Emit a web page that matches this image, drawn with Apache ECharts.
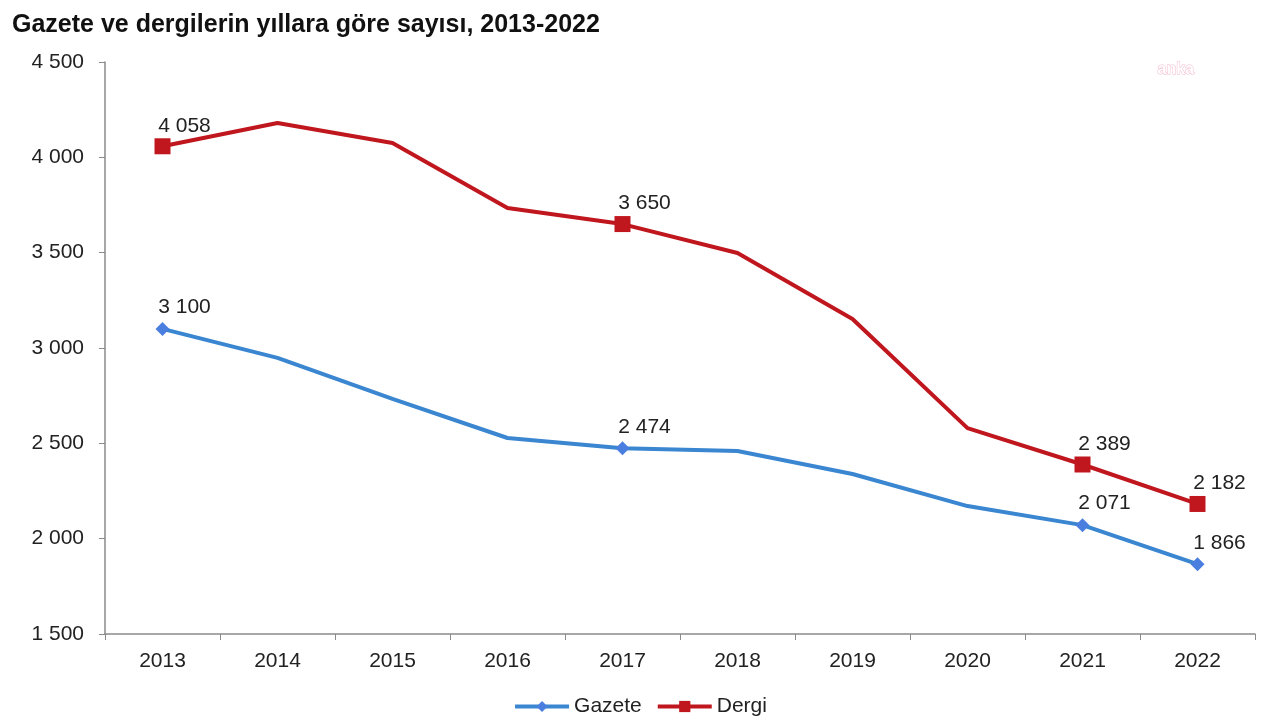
<!DOCTYPE html>
<html>
<head>
<meta charset="utf-8">
<script src="https://cdn.jsdelivr.net/npm/echarts@6/dist/echarts.min.js"></script>
<style>html,body{margin:0;padding:0;background:#fff}#c{width:1280px;height:720px}</style>
</head>
<body>
<div id="c"></div>
<script>
const titleText = 'Gazete ve dergilerin yıllara göre sayısı, 2013-2022';
const years = ['2013','2014','2015','2016','2017','2018','2019','2020','2021','2022'];
const gazete = [3100, 2948, 2733, 2528, 2474, 2460, 2339, 2171, 2071, 1866];
const dergi = [4058, 4180, 4075, 3734, 3650, 3498, 3152, 2580, 2389, 2182];
const labeledIdx = [0, 4, 8, 9];
const yMin = 1500, yMax = 4500, yStep = 500;

const fmt = v => String(v).replace(/\B(?=(\d{3})+(?!\d))/g, ' ');
const FONT = 'Liberation Sans, Arial, sans-serif';

function build(values) {
  return values.map((v, i) => labeledIdx.includes(i)
    ? { value: v, label: { show: true } }
    : { value: v, symbol: 'none', label: { show: false } });
}

const chart = echarts.init(document.getElementById('c'));
chart.setOption({
  animation: false,
  backgroundColor: '#fff',
  title: {
    text: titleText, left: 7, top: 8,
    textStyle: { fontFamily: FONT, fontWeight: 'bold', fontSize: 25, color: '#111' }
  },
  graphic: [{
    type: 'text', left: 1157, top: 61,
    style: { text: 'anka', fontFamily: FONT, fontSize: 16, fontWeight: 'bold', fill: '#fff', stroke: '#f4b8cc', lineWidth: 1 }
  }],
  legend: {
    bottom: -2, left: 'center', itemWidth: 54, itemHeight: 14, itemGap: 14,
    lineStyle: { width: 4 },
    textStyle: { fontFamily: FONT, fontSize: 21, color: '#222' },
    data: ['Gazete', 'Dergi']
  },
  grid: { left: 105, right: 25, top: 62, bottom: 86, containLabel: false },
  xAxis: {
    type: 'category', data: years, boundaryGap: true,
    axisLine: { lineStyle: { color: '#8a8a8a', width: 1.5 } },
    axisTick: { show: true, length: 6, lineStyle: { color: '#8a8a8a' } },
    axisLabel: { fontFamily: FONT, fontSize: 21, color: '#222', margin: 17 }
  },
  yAxis: {
    type: 'value', min: yMin, max: yMax, interval: yStep,
    splitLine: { show: false },
    axisLine: { show: true, lineStyle: { color: '#8a8a8a', width: 1.5 } },
    axisTick: { show: true, length: 6, lineStyle: { color: '#8a8a8a' } },
    axisLabel: { fontFamily: FONT, fontSize: 21, color: '#222', margin: 21, formatter: fmt }
  },
  series: [
    {
      name: 'Gazete', type: 'line', data: build(gazete),
      symbol: 'diamond', symbolSize: 14,
      lineStyle: { color: '#3a86d0', width: 4 },
      itemStyle: { color: '#4a7fe0' },
      label: { show: false, position: 'top', offset: [22, 1], fontFamily: FONT, fontSize: 21, color: '#222', formatter: p => fmt(p.value) }
    },
    {
      name: 'Dergi', type: 'line', data: build(dergi),
      symbol: 'rect', symbolSize: 16,
      lineStyle: { color: '#c0161e', width: 4 },
      itemStyle: { color: '#c0161e' },
      label: { show: false, position: 'top', offset: [22, 3], fontFamily: FONT, fontSize: 21, color: '#222', formatter: p => fmt(p.value) }
    }
  ]
});
</script>
</body>
</html>
